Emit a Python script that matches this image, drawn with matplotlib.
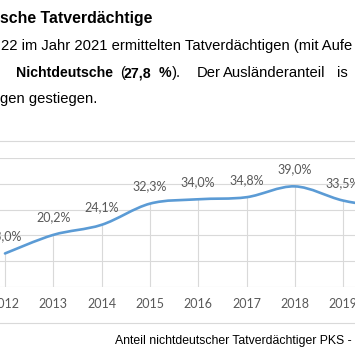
"""
Anteil nichtdeutscher Tatverdaechtiger - smoothed Excel-style line with drop lines,
cut out of a page of a report.
"""

import numpy as np
import matplotlib
matplotlib.use("Agg")
import matplotlib.pyplot as plt
from matplotlib.path import Path
from matplotlib.patches import PathPatch
from matplotlib.lines import Line2D

# Data.
years = [2012, 2013, 2014, 2015, 2016, 2017, 2018, 2019, 2020, 2021]
share = [13.0, 20.2, 24.1, 32.3, 34.0, 34.8, 39.0, 33.5, 30.6, 27.8]
labels = ["13,0%", "20,2%", "24,1%", "32,3%", "34,0%", "34,8%", "39,0%", "33,5%", "30,6%", "27,8%"]
y_grid = [0, 10, 20, 30, 40, 50]

W = H = 355.0
GRID = "#d9d9d9"
LABEL = "#595959"
BLUE = "#5b9bd5"


def px(x, y):
    # pixel position (from top left) -> figure fraction
    return x / W, 1 - y / H


fig = plt.figure(figsize=(3.55, 3.55), dpi=100)
fig.patch.set_facecolor("white")

# Axes placed so that 2012 sits at x=5px and year step is ~48.3px.
step = 48.3
x0 = 5 - step / 2
ax = fig.add_axes([x0 / W, (H - 287) / H, 8 * step / W, 129 / H])
ax.set_xlim(2011.5, 2019.5)
ax.set_ylim(0, 50)
ax.set_facecolor("none")
for s in ax.spines.values():
    s.set_visible(False)

ax.set_yticks(y_grid)
ax.yaxis.grid(True, color=GRID, lw=0.8)
ax.set_axisbelow(True)
ax.tick_params(axis="y", length=0, labelleft=False)
ax.set_xticks(years[:8])
ax.set_xticklabels([str(y) for y in years[:8]], family="Lato", fontsize=9, color=LABEL)
ax.tick_params(axis="x", length=0, pad=8)

# Drop lines.
ax.vlines(years, 0, share, color=GRID, lw=0.8, zorder=1)

# Smoothed line (Catmull-Rom to cubic Bezier).
pts = np.column_stack([years, share]).astype(float)
ext = np.vstack([pts[0], pts, pts[-1]])
verts = [pts[0]]
codes = [Path.MOVETO]
for i in range(len(pts) - 1):
    p0, p1, p2, p3 = ext[i], ext[i + 1], ext[i + 2], ext[i + 3]
    verts += [p1 + (p2 - p0) / 6, p2 - (p3 - p1) / 6, p2]
    codes += [Path.CURVE4] * 3
ax.add_patch(PathPatch(Path(verts, codes), fill=False, edgecolor=BLUE, lw=1.9,
                       capstyle="round", joinstyle="round", zorder=3))

for x, v, t in zip(years, share, labels):
    ax.annotate(t, (x, v), xytext=(0, 12.5), textcoords="offset points",
                ha="center", va="center", family="Lato", fontsize=9, color=LABEL,
                annotation_clip=False)

# Chart frame (top and bottom edges visible in the crop).
for yy in (141, 322.7):
    fig.add_artist(Line2D([0, 1], [1 - yy / H] * 2, transform=fig.transFigure,
                          color=GRID, lw=0.8))

# Surrounding page text.
body = dict(family="Liberation Sans", fontsize=10.6, color="black", va="center")
fig.text(*px(0, 18), "sche Tatverdächtige", fontweight="bold",
         **{**body, "fontsize": 11.4})
fig.text(*px(1, 46), "22 im Jahr 2021 ermittelten Tatverdächtigen (mit Aufe", **body)
fig.text(*px(16, 73), "Nichtdeutsche", fontweight="bold", **{**body, "fontsize": 10.2})
fig.text(*px(120, 73), "(", **body)
fig.text(*px(124, 73), "27,8", fontweight="bold", **{**body, "fontsize": 10.2})
fig.text(*px(159, 73), "%", fontweight="bold", **{**body, "fontsize": 10.2})
fig.text(*px(172, 73), ").", **body)
fig.text(*px(197, 73), "Der", **body)
fig.text(*px(223, 73), "Ausländeranteil", **body)
fig.text(*px(337, 73), "is", **body)
fig.text(*px(0, 99), "gen gestiegen.", **body)

fig.text(*px(115, 341), "Anteil nichtdeutscher Tatverdächtiger PKS - P",
         family="Liberation Sans", fontsize=8.8, color="black", va="center")

fig.savefig("out.png", dpi=100)
